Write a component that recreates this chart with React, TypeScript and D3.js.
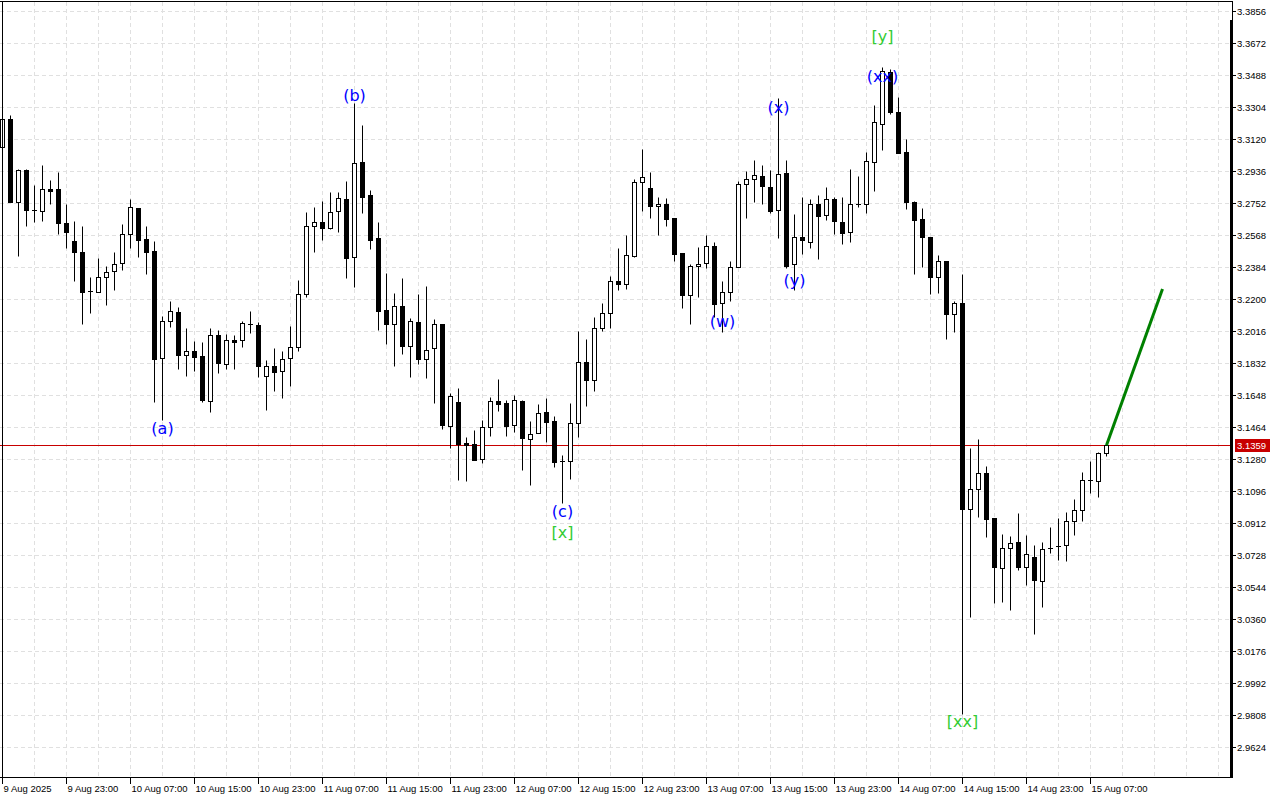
import React from 'react';
import * as d3 from 'd3';

const priceTicks = [3.3856, 3.3672, 3.3488, 3.3304, 3.3120, 3.2936, 3.2752, 3.2568, 3.2384, 3.2200, 3.2016, 3.1832, 3.1648, 3.1464, 3.1280, 3.1096, 3.0912, 3.0728, 3.0544, 3.0360, 3.0176, 2.9992, 2.9808, 2.9624];
const timeLabels = ["9 Aug 2025", "9 Aug 23:00", "10 Aug 07:00", "10 Aug 15:00", "10 Aug 23:00", "11 Aug 07:00", "11 Aug 15:00", "11 Aug 23:00", "12 Aug 07:00", "12 Aug 15:00", "12 Aug 23:00", "13 Aug 07:00", "13 Aug 15:00", "13 Aug 23:00", "14 Aug 07:00", "14 Aug 15:00", "14 Aug 23:00", "15 Aug 07:00"];
const barsPerLabel = 8;

const opens = [3.3074, 3.3235, 3.2758, 3.2942, 3.2712, 3.2706, 3.2833, 3.2833, 3.2637, 3.2534, 3.2470, 3.2243, 3.2240, 3.2327, 3.2361, 3.2407, 3.2574, 3.2723, 3.2545, 3.2476,
  3.1858, 3.2074, 3.2125, 3.1878, 3.1901, 3.1872, 3.1614, 3.1993, 3.1826, 3.1964, 3.1964, 3.2056, 3.2051, 3.1757, 3.1815, 3.1786, 3.1861, 3.1924, 3.2229, 3.2620,
  3.2643, 3.2608, 3.2706, 3.2775, 3.2442, 3.2988, 3.2798, 3.2551, 3.2137, 3.2056, 3.2160, 3.1930, 3.2068, 3.1855, 3.1918, 3.2056, 3.1470, 3.1608, 3.1372, 3.1366,
  3.1280, 3.1464, 3.1614, 3.1602, 3.1476, 3.1614, 3.1395, 3.1430, 3.1550, 3.1499, 3.1269, 3.1269, 3.1487, 3.1838, 3.1734, 3.2033, 3.2120, 3.2304, 3.2286, 3.2447,
  3.2873, 3.2838, 3.2735, 3.2746, 3.2666, 3.2465, 3.2223, 3.2390, 3.2407, 3.2505, 3.2177, 3.2240, 3.2384, 3.2861, 3.2890, 3.2907, 3.2844, 3.2712, 3.2925, 3.2401,
  3.2557, 3.2528, 3.2746, 3.2683, 3.2775, 3.2643, 3.2585, 3.2746, 3.2746, 3.2988, 3.3206, 3.3505, 3.3275, 3.3045, 3.2758, 3.2658, 3.2555, 3.2328, 3.2417, 3.2111,
  3.2177, 3.0995, 3.1106, 3.1202, 3.0939, 3.0656, 3.0771, 3.0800, 3.0660, 3.0714, 3.0577, 3.0767, 3.0776, 3.0783, 3.0922, 3.0985, 3.1153, 3.1152, 3.1313];

const highs = [3.3258, 3.3258, 3.2948, 3.2948, 3.2856, 3.2971, 3.2884, 3.2930, 3.2746, 3.2649, 3.2620, 3.2327, 3.2436, 3.2390, 3.2470, 3.2631, 3.2775, 3.2725, 3.2620, 3.2534,
  3.2102, 3.2189, 3.2154, 3.2033, 3.1959, 3.1953, 3.2033, 3.2022, 3.1999, 3.1993, 3.2074, 3.2131, 3.2068, 3.1849, 3.1918, 3.1901, 3.2045, 3.2309, 3.2700, 3.2729,
  3.2764, 3.2815, 3.2815, 3.2879, 3.3327, 3.3201, 3.2827, 3.2643, 3.2350, 3.2235, 3.2321, 3.2091, 3.2229, 3.2275, 3.2085, 3.2058, 3.1660, 3.1688, 3.1407, 3.1447,
  3.1504, 3.1637, 3.1740, 3.1619, 3.1648, 3.1619, 3.1499, 3.1596, 3.1631, 3.1527, 3.1303, 3.1602, 3.2016, 3.1970, 3.2097, 3.2177, 3.2332, 3.2493, 3.2568, 3.2890,
  3.3063, 3.2930, 3.2787, 3.2781, 3.2667, 3.2466, 3.2401, 3.2499, 3.2568, 3.2528, 3.2304, 3.2419, 3.2879, 3.2936, 3.2999, 3.2971, 3.2942, 3.3356, 3.2999, 3.2689,
  3.2787, 3.2775, 3.2798, 3.2844, 3.2787, 3.2787, 3.2948, 3.2907, 3.3045, 3.3316, 3.3534, 3.3523, 3.3362, 3.3120, 3.2761, 3.2724, 3.2557, 3.2453, 3.2419, 3.2187,
  3.2344, 3.1345, 3.1397, 3.1242, 3.0941, 3.0848, 3.0840, 3.0969, 3.0842, 3.0784, 3.0800, 3.0888, 3.0941, 3.0975, 3.1050, 3.1205, 3.1269, 3.1320, 3.1366];

const lows = [3.3057, 3.2756, 3.2447, 3.2620, 3.2643, 3.2649, 3.2746, 3.2574, 3.2493, 3.2304, 3.2056, 3.2120, 3.2238, 3.2166, 3.2252, 3.2367, 3.2493, 3.2442, 3.2344, 3.1608,
  3.1504, 3.2039, 3.1798, 3.1757, 3.1786, 3.1608, 3.1550, 3.1775, 3.1798, 3.1798, 3.1924, 3.2005, 3.1752, 3.1562, 3.1671, 3.1631, 3.1700, 3.1901, 3.2212, 3.2470,
  3.2539, 3.2603, 3.2585, 3.2321, 3.2269, 3.2695, 3.2488, 3.2022, 3.1941, 3.1815, 3.1884, 3.1752, 3.1826, 3.1746, 3.1602, 3.1453, 3.1343, 3.1159, 3.1154, 3.1272,
  3.1257, 3.1412, 3.1556, 3.1412, 3.1435, 3.1217, 3.1131, 3.1428, 3.1378, 3.1234, 3.1027, 3.1165, 3.1407, 3.1585, 3.1671, 3.2016, 3.2033, 3.2252, 3.2258, 3.2442,
  3.2706, 3.2666, 3.2568, 3.2620, 3.2419, 3.2148, 3.2056, 3.2212, 3.2378, 3.2097, 3.2010, 3.2189, 3.2382, 3.2666, 3.2758, 3.2749, 3.2695, 3.2551, 3.2378, 3.2252,
  3.2459, 3.2493, 3.2430, 3.2654, 3.2574, 3.2516, 3.2528, 3.2729, 3.2695, 3.2821, 3.3057, 3.3264, 3.3038, 3.2718, 3.2346, 3.2383, 3.2227, 3.2233, 3.1971, 3.2013,
  2.9812, 3.0371, 3.0945, 3.0832, 3.0454, 3.0460, 3.0414, 3.0640, 3.0557, 3.0276, 3.0430, 3.0741, 3.0699, 3.0695, 3.0843, 3.0925, 3.1083, 3.1063, 3.1299];

const closes = [3.3235, 3.2758, 3.2942, 3.2712, 3.2709, 3.2833, 3.2821, 3.2637, 3.2585, 3.2470, 3.2240, 3.2245, 3.2327, 3.2355, 3.2401, 3.2574, 3.2729, 3.2539, 3.2470, 3.1855,
  3.2074, 3.2131, 3.1878, 3.1901, 3.1867, 3.1619, 3.1993, 3.1832, 3.1964, 3.1953, 3.2062, 3.2059, 3.1815, 3.1815, 3.1780, 3.1855, 3.1924, 3.2229, 3.2620, 3.2643,
  3.2608, 3.2700, 3.2781, 3.2436, 3.2982, 3.2787, 3.2539, 3.2131, 3.2056, 3.2160, 3.1930, 3.2074, 3.1855, 3.1907, 3.2056, 3.1476, 3.1642, 3.1366, 3.1361, 3.1274,
  3.1464, 3.1614, 3.1596, 3.1470, 3.1619, 3.1401, 3.1424, 3.1545, 3.1493, 3.1263, 3.1266, 3.1487, 3.1838, 3.1734, 3.2033, 3.2120, 3.2304, 3.2286, 3.2453, 3.2873,
  3.2902, 3.2735, 3.2746, 3.2660, 3.2459, 3.2223, 3.2390, 3.2401, 3.2505, 3.2171, 3.2240, 3.2384, 3.2861, 3.2890, 3.2913, 3.2847, 3.2706, 3.2919, 3.2390, 3.2557,
  3.2539, 3.2746, 3.2677, 3.2775, 3.2649, 3.2580, 3.2746, 3.2748, 3.2994, 3.3218, 3.3511, 3.3275, 3.3040, 3.2758, 3.2657, 3.2554, 3.2328, 3.2417, 3.2116, 3.2175,
  3.0995, 3.1106, 3.1197, 3.0937, 3.0660, 3.0771, 3.0795, 3.0660, 3.0731, 3.0587, 3.0765, 3.0771, 3.0780, 3.0922, 3.0987, 3.1158, 3.1157, 3.1313, 3.1359];

const lastPrice = 3.1359;
const projectionBars = [138, 145];
const projectionPrices = [3.1359, 3.2258];

const waveTexts = ["(a)", "(b)", "(c)", "[x]", "(w)", "(x)", "(y)", "(xx)", "[y]", "[xx]"];
const waveBars = [20, 44, 70, 70, 90, 97, 99, 110, 110, 120];
const wavePrices = [3.1458, 3.3373, 3.0981, 3.0860, 3.2068, 3.3304, 3.2304, 3.3477, 3.3707, 2.9768];
const waveDegrees = ["minor", "minor", "minor", "major", "minor", "minor", "minor", "minor", "major", "major"];

const W = 1280;
const H = 800;
const plotRight = 1231;
const plotTop = 2;
const plotBottom = 778;

export default function App() {
  const x = d3.scaleLinear().domain([0, 153]).range([2.5, 1226.5]);
  const y = d3.scaleLinear().domain([2.9624, 3.3856]).range([747, 11]);
  const py = (v: number) => Math.round(y(v)) + 0.5;

  const gridBars = d3.range(0, 153, 4);
  const axisFont = "'Liberation Sans', Arial, sans-serif";
  const waveFont = "'DejaVu Sans', Verdana, sans-serif";

  const candles = opens.map((o, i) => {
    const c = closes[i];
    const h = Math.max(highs[i], o, c);
    const l = Math.min(lows[i], o, c);
    const cx = x(i);
    const bull = c >= o;
    let top = py(Math.max(o, c));
    let bot = py(Math.min(o, c));
    if (bot - top < 1) bot = top + 1;
    return (
      <g key={i}>
        <line x1={cx} x2={cx} y1={py(h)} y2={py(l)} stroke="#000" strokeWidth={1} />
        {bot - top <= 1 ? (
          <line x1={cx - 2.5} x2={cx + 2.5} y1={top} y2={top} stroke="#000" strokeWidth={1} />
        ) : (
          <rect x={cx - 2} y={top} width={4} height={bot - top} fill={bull ? '#fff' : '#000'} stroke="#000" strokeWidth={1} />
        )}
      </g>
    );
  });

  const projLine = d3.line<number>()
    .x((_, i) => x(projectionBars[i]))
    .y((p) => y(p))(projectionPrices) || '';

  return (
    <svg width={W} height={H} style={{ position: 'fixed', left: 0, top: 0, background: '#fff' }}>
      <defs>
        <clipPath id="plot">
          <rect x={0} y={plotTop} width={plotRight} height={plotBottom - plotTop} />
        </clipPath>
      </defs>
      <rect x={0} y={0} width={W} height={H} fill="#fff" />
      <g stroke="#e0e0e0" strokeWidth={1} strokeDasharray="4,3">
        {priceTicks.map((t) => (
          <line key={'h' + t} x1={0} x2={plotRight - 1} y1={py(t)} y2={py(t)} />
        ))}
        {gridBars.map((b) => (
          <line key={'v' + b} x1={x(b)} x2={x(b)} y1={plotTop} y2={plotBottom} />
        ))}
      </g>
      <line x1={0} x2={plotRight} y1={py(lastPrice)} y2={py(lastPrice)} stroke="#c80000" strokeWidth={1} />
      <g clipPath="url(#plot)">{candles}</g>
      <path d={projLine} stroke="#008000" strokeWidth={3} fill="none" />
      {waveTexts.map((t, i) => (
        <text key={'w' + i} x={x(waveBars[i])} y={y(wavePrices[i])} textAnchor="middle" dominantBaseline="central"
          fontFamily={waveFont} fontSize={16} fill={waveDegrees[i] === 'major' ? '#33cc33' : '#0000ff'}>{t}</text>
      ))}
      {/* frame */}
      <line x1={0} x2={plotRight + 2} y1={1.5} y2={1.5} stroke="#000" />
      <line x1={2.5} x2={2.5} y1={1.5} y2={plotBottom} stroke="#000" />
      <line x1={0} x2={plotRight + 2} y1={plotBottom - 0.5} y2={plotBottom - 0.5} stroke="#000" />
      <line x1={plotRight + 1.5} x2={plotRight + 1.5} y1={1.5} y2={plotBottom} stroke="#000" />
      <rect x={plotRight - 1} y={20} width={3} height={plotBottom - 20} fill="#000" />
      {/* price axis */}
      {priceTicks.map((t) => (
        <g key={'p' + t}>
          <line x1={plotRight + 2} x2={plotRight + 5} y1={py(t)} y2={py(t)} stroke="#000" />
          <text x={plotRight + 6} y={py(t)} dominantBaseline="central" fontFamily={axisFont} fontSize={9.5} fill="#000">{t.toFixed(4)}</text>
        </g>
      ))}
      <rect x={plotRight + 4} y={py(lastPrice) - 6.5} width={35} height={13} fill="#c80000" />
      <text x={plotRight + 6} y={py(lastPrice)} dominantBaseline="central" fontFamily={axisFont} fontSize={9.5} fill="#fff">{lastPrice.toFixed(4)}</text>
      {/* time axis */}
      {timeLabels.map((lab, m) => {
        const tx = x(m * barsPerLabel);
        return (
          <g key={'t' + m}>
            <line x1={tx} x2={tx} y1={plotBottom} y2={plotBottom + 6} stroke="#000" />
            <text x={tx + 1} y={plotBottom + 14} fontFamily={axisFont} fontSize={9.5} fill="#000">{lab}</text>
          </g>
        );
      })}
    </svg>
  );
}
